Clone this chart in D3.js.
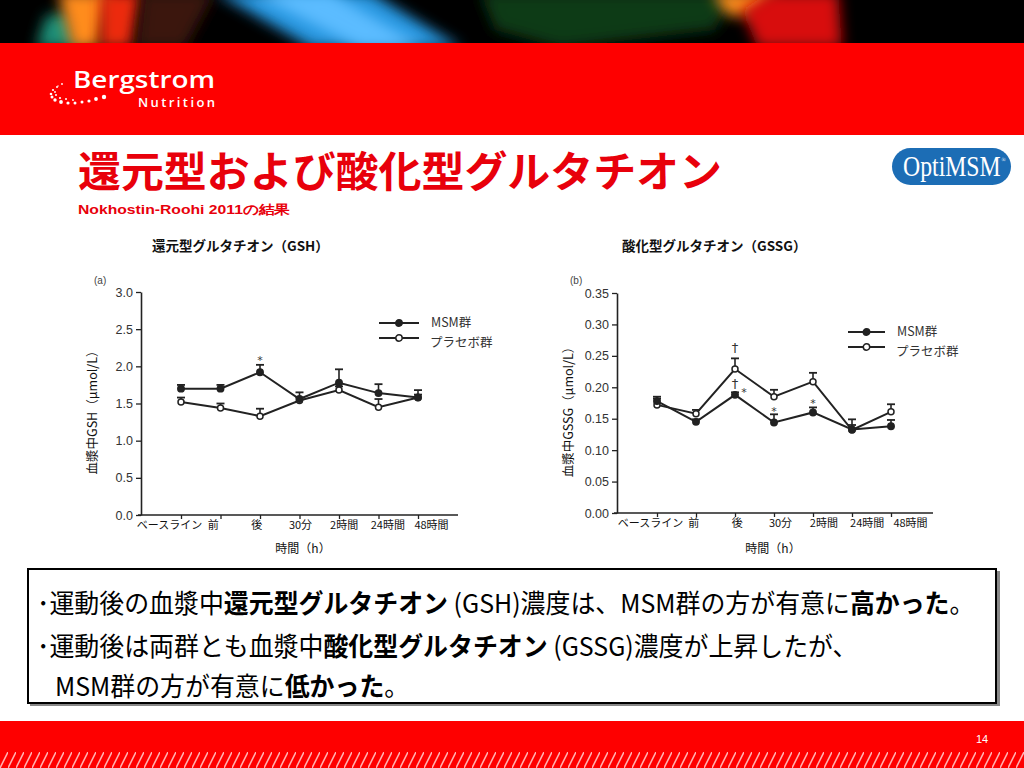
<!DOCTYPE html>
<html>
<head>
<meta charset="utf-8">
<script src="https://cdn.jsdelivr.net/npm/d3@7"></script>
<style>
  body { margin: 0; background: #fff; }
  svg { display: block; }
</style>
</head>
<body>
<svg id="slide" width="1024" height="768"></svg>
<script>
// ---- data ----
const categories = ["ベースライン", "前", "後", "30分", "2時間", "24時間", "48時間"];

const gshTicks = [0, 0.5, 1.0, 1.5, 2.0, 2.5, 3.0];
const gshMsm = [1.70, 1.70, 1.92, 1.56, 1.78, 1.64, 1.58];
const gshMsmErr = [0.05, 0.05, 0.10, 0.09, 0.18, 0.12, 0.10];
const gshPlacebo = [1.52, 1.44, 1.33, 1.54, 1.68, 1.45, 1.58];
const gshPlaceboErr = [0.06, 0.06, 0.10, 0.04, 0.05, 0.11, 0.04];
const gshMarks = [{ cat: "後", v: 2.13, s: "*" }];

const gssgTicks = [0, 0.05, 0.10, 0.15, 0.20, 0.25, 0.30, 0.35];
const gssgMsm = [0.178, 0.145, 0.188, 0.144, 0.160, 0.133, 0.138];
const gssgMsmErr = [0.007, 0.004, 0.004, 0.013, 0.008, 0.007, 0.010];
const gssgPlacebo = [0.172, 0.158, 0.229, 0.185, 0.209, 0.132, 0.161];
const gssgPlaceboErr = [0.010, 0.006, 0.017, 0.011, 0.014, 0.017, 0.012];
const gssgMarks = [
  { cat: "後", v: 0.262, s: "†" },
  { cat: "後", v: 0.206, s: "†" },
  { cat: "後", v: 0.197, s: "*", dx: 9 },
  { cat: "30分", v: 0.167, s: "*" },
  { cat: "2時間", v: 0.179, s: "*" }
];

const seriesNames = ["MSM群", "プラセボ群"];

const summaryLines = [
  [["･運動後の血漿中", 0], ["還元型グルタチオン", 1], [" (GSH)濃度は、MSM群の方が有意に", 0], ["高かった", 1], ["。", 0]],
  [["･運動後は両群とも血漿中", 0], ["酸化型グルタチオン", 1], [" (GSSG)濃度が上昇したが、", 0]],
  [["MSM群の方が有意に", 0], ["低かった", 1], ["。", 0]]
];

const JP = "'Noto Sans CJK JP', 'Noto Sans', sans-serif";
const SANS = "'Liberation Sans', Arial, sans-serif";
const RED = "#fe0000";
const INK = "#222";

const svg = d3.select("#slide");
const defs = svg.append("defs");

// ---- header photo strip ----
defs.append("filter").attr("id", "blur")
  .attr("filterUnits", "userSpaceOnUse")
  .attr("x", -50).attr("y", -50).attr("width", 1124).attr("height", 150)
  .append("feGaussianBlur").attr("stdDeviation", 7);
defs.append("clipPath").attr("id", "photoClip")
  .append("rect").attr("width", 1024).attr("height", 43);

const photo = svg.append("g").attr("clip-path", "url(#photoClip)");
photo.append("rect").attr("width", 1024).attr("height", 43).attr("fill", "#000");
const streakShapes = [
  { d: "M36,48 L46,16 L70,12 L80,48 Z", fill: "#1e9078" },
  { d: "M58,-8 L110,-8 L98,48 L72,48 Z", fill: "#ff8c1e" },
  { d: "M100,-8 L142,-8 L132,48 L100,48 Z", fill: "#ec2a10" },
  { d: "M142,-8 L215,-8 L185,48 L136,48 Z", fill: "#3a140a" },
  { d: "M215,-8 L370,-8 L462,48 L312,48 Z", fill: "#2596e0" },
  { d: "M250,-8 L330,-8 L425,48 L360,48 Z", fill: "#5cbcff" },
  { d: "M480,-8 L735,-8 L715,30 L560,48 L495,30 Z", fill: "#0c3a18" },
  { d: "M712,-8 L780,-8 L762,14 L728,16 Z", fill: "#ff8e1a" },
  { d: "M742,10 L770,-8 L838,-8 L842,48 L758,48 Z", fill: "#d80c0c" }
];
photo.selectAll("path.streak").data(streakShapes).join("path").attr("class", "streak")
  .attr("d", d => d.d).attr("fill", d => d.fill).attr("filter", "url(#blur)");

// red bands
svg.append("rect").attr("y", 43).attr("width", 1024).attr("height", 92).attr("fill", RED);
svg.append("rect").attr("y", 721).attr("width", 1024).attr("height", 47).attr("fill", RED);

// hatch in footer
const hatch = defs.append("pattern").attr("id", "hatch")
  .attr("patternUnits", "userSpaceOnUse").attr("width", 8).attr("height", 16);
hatch.append("line").attr("x1", 0).attr("y1", 16).attr("x2", 8).attr("y2", 0)
  .attr("stroke", "#ffb0b0").attr("stroke-width", 1.6);
svg.append("rect").attr("y", 752).attr("width", 1024).attr("height", 16).attr("fill", "url(#hatch)");
svg.append("text").attr("x", 982).attr("y", 743).attr("text-anchor", "middle")
  .attr("font-family", SANS).attr("font-size", 11).attr("fill", "#fff").text("14");

// ---- Bergstrom logo ----
const logo = svg.append("g").attr("fill", "#fff");
const logoDots = [
  [62, 84, 0.9], [57, 87, 1.0], [53, 90, 1.1], [51, 94, 1.3], [52, 97, 1.5], [55, 100, 1.7],
  [61, 102, 1.9], [68, 103, 1.6], [75, 103, 1.5], [82, 102, 1.5], [89, 101, 1.6], [96, 99, 1.9],
  [104, 97, 2.2], [58, 86, 0.7], [55, 92, 0.9], [56, 95, 1.0], [60, 98, 1.1], [66, 99, 1.0], [73, 100, 0.9]
];
logo.selectAll("circle").data(logoDots).join("circle")
  .attr("cx", d => d[0]).attr("cy", d => d[1]).attr("r", d => d[2]);
logo.append("text").attr("x", 73).attr("y", 88)
  .attr("font-family", "'Open Sans', sans-serif").attr("font-weight", 600).attr("font-size", 23)
  .attr("textLength", 142).attr("lengthAdjust", "spacingAndGlyphs").text("Bergstrom");
logo.append("text").attr("x", 138).attr("y", 107)
  .attr("font-family", "'Open Sans', sans-serif").attr("font-weight", 600).attr("font-size", 13)
  .attr("textLength", 77).attr("lengthAdjust", "spacing").text("Nutrition");

// ---- title ----
svg.append("text").attr("x", 78).attr("y", 187)
  .attr("font-family", JP).attr("font-weight", 700).attr("font-size", 42).attr("fill", "#e8000b")
  .attr("textLength", 644).attr("lengthAdjust", "spacingAndGlyphs")
  .text("還元型および酸化型グルタチオン");
svg.append("text").attr("x", 78).attr("y", 214)
  .attr("font-family", SANS).attr("font-weight", 700).attr("font-size", 13).attr("fill", "#e8000b")
  .attr("textLength", 212).attr("lengthAdjust", "spacingAndGlyphs")
  .text("Nokhostin-Roohi 2011の結果");

// OptiMSM badge
svg.append("rect").attr("x", 892).attr("y", 148).attr("width", 119).attr("height", 37)
  .attr("rx", 18.5).attr("fill", "#1c6db5");
const badge = svg.append("text")
  .attr("font-family", "'Liberation Serif', 'DejaVu Serif', serif").attr("font-size", 30).attr("fill", "#fff");
badge.append("tspan").text("OptiMSM");
badge.append("tspan").attr("font-size", 7).attr("dy", -14).attr("dx", 1).text("®");
const badgeW = badge.node().getComputedTextLength();
badge.attr("transform", `translate(903,176) scale(${102 / badgeW},1)`);

// ---- chart panels ----
function drawPanel(cfg) {
  const g = svg.append("g");
  const x = d3.scalePoint(categories, cfg.xRange);
  const xLab = d3.scalePoint(categories, cfg.labelRange);
  const y = d3.scaleLinear([0, cfg.yMax], cfg.yRange);

  g.append("text").attr("x", cfg.titleX).attr("y", 251)
    .attr("font-family", JP).attr("font-weight", 700).attr("font-size", 13.5).attr("fill", "#111")
    .text(cfg.title);
  g.append("text").attr("x", cfg.axisX - 47).attr("y", 284)
    .attr("font-family", SANS).attr("font-size", 10).attr("fill", "#444").text(cfg.tag);

  // y axis
  const yAxis = g.append("g").attr("transform", `translate(${cfg.axisX},0)`)
    .call(d3.axisLeft(y).tickValues(cfg.ticks).tickSize(5).tickSizeOuter(0)
      .tickPadding(3).tickFormat(d3.format(cfg.fmt)));
  yAxis.select(".domain").attr("stroke", INK).attr("stroke-width", 1.6);
  yAxis.selectAll(".tick line").attr("stroke", INK).attr("stroke-width", 1.3);
  yAxis.selectAll(".tick text").attr("font-family", SANS).attr("font-size", 12.5).attr("fill", "#333");

  // x axis: ticks at the points, labels on their own slightly wider spread
  const y0 = cfg.yRange[0];
  const xAxis = g.append("g").attr("transform", `translate(0,${y0})`)
    .call(d3.axisBottom(x).tickSize(4).tickFormat(""));
  xAxis.select(".domain").remove();
  xAxis.selectAll(".tick line").attr("stroke", INK).attr("stroke-width", 1.3);
  g.append("line").attr("x1", cfg.axisX - 3).attr("x2", cfg.axisEnd)
    .attr("y1", y0).attr("y2", y0).attr("stroke", INK).attr("stroke-width", 1.6);

  const xLabels = g.append("g").attr("transform", `translate(0,${y0})`)
    .call(d3.axisBottom(xLab).tickSize(0).tickPadding(6));
  xLabels.select(".domain").remove();
  xLabels.selectAll(".tick text").attr("font-family", JP).attr("font-size", 11).attr("fill", "#111");

  g.append("text").attr("transform", `translate(${cfg.axisX - 44},${(cfg.yRange[0] + cfg.yRange[1]) / 2 + 6}) rotate(-90)`)
    .attr("text-anchor", "middle").attr("font-family", JP).attr("font-size", 12.5).attr("fill", "#111")
    .text(cfg.yTitle);
  g.append("text").attr("x", cfg.xTitleX).attr("y", 553).attr("text-anchor", "middle")
    .attr("font-family", JP).attr("font-size", 12).attr("fill", "#111").text("時間（h）");

  const series = [
    { vals: cfg.placebo, err: cfg.placeboErr, filled: false },
    { vals: cfg.msm, err: cfg.msmErr, filled: true }
  ];
  const line = d3.line().x((d, i) => x(categories[i])).y(d => y(d));

  series.forEach(s => {
    const sg = g.append("g");
    // error bars (upper only)
    sg.selectAll("line.err").data(s.vals).join("line").attr("class", "err")
      .attr("x1", (d, i) => x(categories[i])).attr("x2", (d, i) => x(categories[i]))
      .attr("y1", d => y(d)).attr("y2", (d, i) => y(d + s.err[i]))
      .attr("stroke", INK).attr("stroke-width", 1.6);
    sg.selectAll("line.cap").data(s.vals).join("line").attr("class", "cap")
      .attr("x1", (d, i) => x(categories[i]) - 4).attr("x2", (d, i) => x(categories[i]) + 4)
      .attr("y1", (d, i) => y(d + s.err[i])).attr("y2", (d, i) => y(d + s.err[i]))
      .attr("stroke", INK).attr("stroke-width", 1.8);
    sg.append("path").datum(s.vals).attr("d", line)
      .attr("fill", "none").attr("stroke", INK).attr("stroke-width", 2);
    sg.selectAll("circle").data(s.vals).join("circle")
      .attr("cx", (d, i) => x(categories[i])).attr("cy", d => y(d))
      .attr("r", s.filled ? 3.2 : 3)
      .attr("fill", s.filled ? INK : "#fff").attr("stroke", INK).attr("stroke-width", 1.5);
  });

  // significance marks
  g.selectAll("text.mark").data(cfg.marks).join("text").attr("class", "mark")
    .attr("x", d => x(d.cat) + (d.dx || 0))
    .attr("y", d => y(d.v) + (d.s === "*" ? 7 : 4))
    .attr("text-anchor", "middle").attr("font-family", "'DejaVu Sans', sans-serif")
    .attr("font-size", d => d.s === "*" ? 11 : 13).attr("fill", "#333")
    .text(d => d.s);

  // legend
  const lg = g.append("g").attr("transform", `translate(${cfg.legendX},${cfg.legendY})`);
  seriesNames.forEach((name, i) => {
    const row = lg.append("g").attr("transform", `translate(0,${i * cfg.legendGap})`);
    row.append("line").attr("x1", 0).attr("x2", cfg.legendLen)
      .attr("stroke", INK).attr("stroke-width", 2.2);
    row.append("circle").attr("cx", cfg.legendLen / 2).attr("r", 3.2)
      .attr("fill", i === 0 ? INK : "#fff").attr("stroke", INK).attr("stroke-width", 1.5);
    row.append("text").attr("x", cfg.legendLen + 12 - (i ? 1 : 0)).attr("y", 4 + i * 5)
      .attr("font-family", JP).attr("font-size", 12.5).attr("fill", "#333").text(name);
  });
}

drawPanel({
  title: "還元型グルタチオン（GSH）", titleX: 152, tag: "(a)",
  xRange: [181, 418], labelRange: [169, 431], axisX: 141, axisEnd: 458,
  yMax: 3, yRange: [515, 292], ticks: gshTicks, fmt: ".1f",
  yTitle: "血漿中GSH（μmol/L）", xTitleX: 303,
  msm: gshMsm, msmErr: gshMsmErr, placebo: gshPlacebo, placeboErr: gshPlaceboErr,
  marks: gshMarks, legendX: 379, legendY: 323, legendGap: 15, legendLen: 40
});

drawPanel({
  title: "酸化型グルタチオン（GSSG）", titleX: 622, tag: "(b)",
  xRange: [657, 891], labelRange: [650, 910], axisX: 617, axisEnd: 933,
  yMax: 0.35, yRange: [513, 293], ticks: gssgTicks, fmt: ".2f",
  yTitle: "血漿中GSSG（μmol/L）", xTitleX: 773,
  msm: gssgMsm, msmErr: gssgMsmErr, placebo: gssgPlacebo, placeboErr: gssgPlaceboErr,
  marks: gssgMarks, legendX: 848, legendY: 332, legendGap: 15, legendLen: 37
});

// ---- summary box ----
svg.append("rect").attr("x", 30).attr("y", 571).attr("width", 970).attr("height", 135).attr("fill", "#888");
svg.append("rect").attr("x", 28).attr("y", 569).attr("width", 968).attr("height", 134)
  .attr("fill", "#fff").attr("stroke", "#000").attr("stroke-width", 2);

const lineX = [37, 37, 55];
const lineY = [613, 656, 696];
const summary = svg.append("g");
const lineNodes = summaryLines.map(segs => {
  const t = summary.append("text").attr("font-family", JP).attr("font-size", 26).attr("fill", "#000");
  segs.forEach(([txt, bold]) => {
    t.append("tspan").attr("font-weight", bold ? 700 : 400).text(txt);
  });
  return t;
});
// squeeze all lines by the same factor so the first one spans the box
const natural = lineNodes[0].node().getComputedTextLength();
const sx = 938 / natural;
lineNodes.forEach((t, li) => {
  t.attr("transform", `translate(${lineX[li]},${lineY[li]}) scale(${sx},1)`);
});
</script>
</body>
</html>
